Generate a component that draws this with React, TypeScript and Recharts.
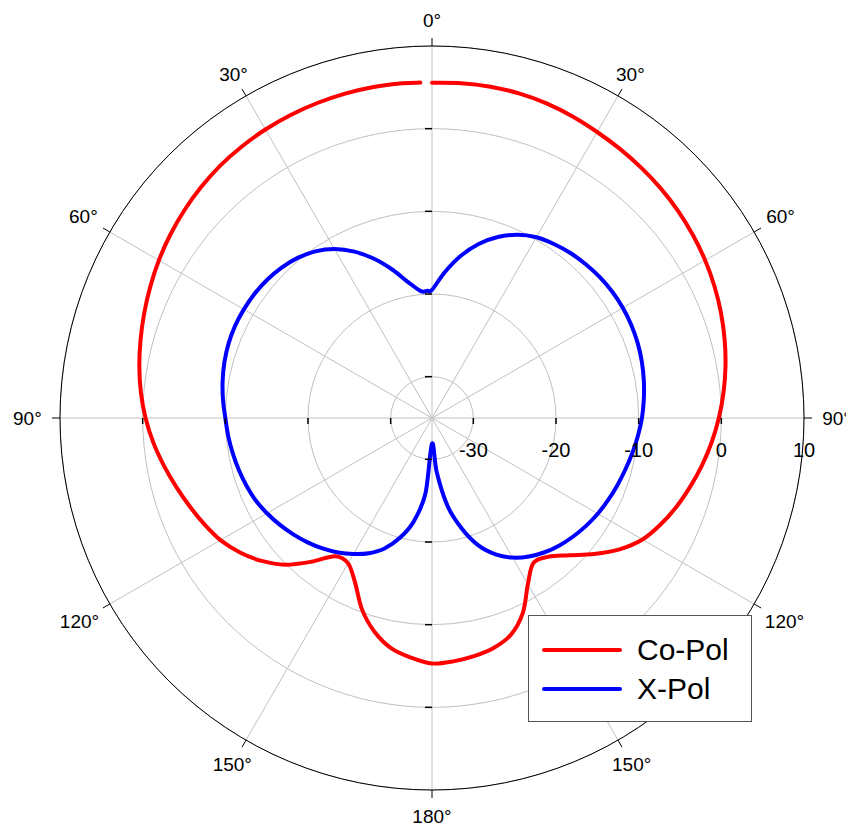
import React from 'react';
import { RadarChart, Radar, PolarGrid, PolarAngleAxis, PolarRadiusAxis, Legend } from 'recharts';

// measurement angles (deg, clockwise from boresight)
const angles = [
  0, 5, 10, 15, 20, 25, 30, 35, 40, 45, 50, 55, 60, 65, 70, 75, 80, 85,
  90, 95, 100, 105, 110, 115, 120, 125, 130, 135, 140, 145, 150, 155, 160, 165, 170, 175,
  180, 185, 190, 195, 200, 205, 210, 215, 220, 225, 230, 235, 240, 245, 250, 255, 260, 265,
  270, 275, 280, 285, 290, 295, 300, 305, 310, 315, 320, 325, 330, 335, 340, 345, 350, 355, 358,
];

// co-polar gain (dB)
const coPol = [
  5.55, 5.65, 5.7, 5.65, 5.5, 5.25, 4.95, 4.7, 4.45, 4.2, 3.9, 3.55, 3.15, 2.7, 2.2, 1.65, 1.05, 0.4,
  -0.3, -1.05, -1.85, -2.7, -3.55, -4.5, -5.6, -7.3, -9.4, -11.5, -13.1, -13.6, -11.8, -9.0, -7.1, -6.2, -5.75, -5.45,
  -5.3, -5.9, -6.7, -8.2, -10.3, -13.0, -14.7, -14.6, -12.3, -9.9, -8.1, -6.65, -5.45, -4.6, -3.8, -2.95, -2.05, -1.15,
  -0.35, 0.35, 0.95, 1.5, 2.05, 2.6, 3.15, 3.65, 4.1, 4.5, 4.85, 5.1, 5.3, 5.45, 5.55, 5.62, 5.66, 5.65, 5.6,
];

// cross-polar gain (dB)
const xPol = [
  -19.5, -17.3, -15.1, -13.2, -11.7, -10.55, -9.75, -9.3, -8.95, -8.7, -8.5, -8.38, -8.35, -8.4, -8.52, -8.72, -8.98, -9.28,
  -9.6, -10.0, -10.4, -10.8, -11.15, -11.5, -11.85, -12.25, -12.7, -13.2, -13.8, -14.55, -15.5, -16.8, -18.6, -21.2, -24.2, -28.4,
  -31.9, -25.8, -22.3, -20.0, -18.2, -16.95, -16.0, -15.15, -14.4, -13.72, -13.1, -12.5, -11.95, -11.45, -11.1, -10.8, -10.52, -10.25,
  -10.0, -9.62, -9.28, -9.0, -8.8, -8.7, -8.72, -8.8, -8.98, -9.28, -9.72, -10.4, -11.4, -12.8, -14.5, -16.4, -18.3, -19.6, -19.6,
];

const angleTicks = [0, 30, 60, 90, 120, 150, 180, 210, 240, 270, 300, 330];
const radiusTicks = [-30, -20, -10, 0, 10];
const legendOrder = ['Co-Pol', 'X-Pol'];

const data = angles.map((angle, i) => ({ angle, co: coPol[i], x: xPol[i] }));

const FONT = "'Liberation Sans', Arial, sans-serif";

type Pt = { x: number; y: number };

// catmull-rom through the radar points, optionally closed
const smoothPath = (pts: Pt[], closed: boolean) => {
  const n = pts.length;
  if (n < 2) return '';
  const get = (i: number) => (closed ? pts[(i + n) % n] : pts[Math.max(0, Math.min(n - 1, i))]);
  let d = `M${pts[0].x},${pts[0].y}`;
  const segs = closed ? n : n - 1;
  for (let i = 0; i < segs; i++) {
    const p0 = get(i - 1);
    const p1 = get(i);
    const p2 = get(i + 1);
    const p3 = get(i + 2);
    const c1x = p1.x + (p2.x - p0.x) / 6;
    const c1y = p1.y + (p2.y - p0.y) / 6;
    const c2x = p2.x - (p3.x - p1.x) / 6;
    const c2y = p2.y - (p3.y - p1.y) / 6;
    d += ` C${c1x},${c1y} ${c2x},${c2y} ${p2.x},${p2.y}`;
  }
  return closed ? d + 'Z' : d;
};

const curve = (color: string, closed: boolean) => (props: any) => (
  <path
    d={smoothPath(props.points || [], closed)}
    fill="none"
    stroke={color}
    strokeWidth={4}
    strokeLinejoin="round"
    strokeLinecap="round"
  />
);

const AngleTick = (props: any) => {
  const { x, y, payload } = props;
  const deg = Number(payload.value) % 360;
  const label = `${deg <= 180 ? deg : 360 - deg}°`;
  const rad = (deg * Math.PI) / 180;
  const dx = Math.sin(rad);
  const dy = -Math.cos(rad);
  const push = 9 + Math.max(Math.abs(dx) * label.length * 5.2, Math.abs(dy) * 9);
  return (
    <text
      x={x + dx * push}
      y={y + dy * push}
      dy="0.35em"
      textAnchor="middle"
      fontFamily={FONT}
      fontSize={19}
      fill="#000"
    >
      {label}
    </text>
  );
};

const RadiusTick = (props: any) => {
  const { x, y, payload } = props;
  const r = payload.coordinate;
  const cx = x - r;
  const cy = y;
  const v = payload.value;
  return (
    <g>
      {v < 10 && (
        <g stroke="#000" strokeWidth={1.5}>
          <line x1={cx + r} y1={cy} x2={cx + r} y2={cy + 6} />
          <line x1={cx - r} y1={cy} x2={cx - r} y2={cy + 6} />
          <line x1={cx - 7} y1={cy - r} x2={cx} y2={cy - r} />
          <line x1={cx - 7} y1={cy + r} x2={cx} y2={cy + r} />
        </g>
      )}
      <text x={x} y={y + 32} dy="0.35em" textAnchor="middle" fontFamily={FONT} fontSize={20} fill="#000">
        {v}
      </text>
    </g>
  );
};

const renderLegend = (props: any) => {
  const items = [...(props.payload || [])].sort(
    (a: any, b: any) => legendOrder.indexOf(a.value) - legendOrder.indexOf(b.value)
  );
  return (
    <div
      style={{
        width: 224,
        height: 107,
        boxSizing: 'border-box',
        border: '1px solid #555',
        background: '#fff',
        position: 'relative',
      }}
    >
      {items.map((item: any, i: number) => (
        <div
          key={item.value}
          style={{ position: 'absolute', left: 13, top: 14 + i * 39, height: 40, display: 'flex', alignItems: 'center' }}
        >
          <svg width={80} height={6} style={{ display: 'block' }}>
            <line x1={2} y1={3} x2={78} y2={3} stroke={item.color} strokeWidth={4} strokeLinecap="round" />
          </svg>
          <span style={{ marginLeft: 15, fontFamily: FONT, fontSize: 30, color: '#000', lineHeight: '40px' }}>
            {item.value}
          </span>
        </div>
      ))}
    </div>
  );
};

export default function App() {
  // negative margin cancels the body margin so the plot can use the full 854px width
  return (
    <div style={{ width: 854, height: 833, margin: -8, background: '#fff' }}>
      <RadarChart
        width={854}
        height={833}
        data={data}
        cx={432}
        cy={418}
        outerRadius={372}
        startAngle={90}
        endAngle={-270}
        margin={{ top: 0, right: 0, bottom: 0, left: 0 }}
      >
        <PolarGrid
          gridType="circle"
          polarAngles={angleTicks}
          stroke="#c0c0c0"
          strokeWidth={1}
        />
        <PolarAngleAxis
          dataKey="angle"
          type="number"
          domain={[0, 360]}
          ticks={angleTicks}
          axisLineType="circle"
          stroke="#000"
          tickSize={8}
          tick={AngleTick}
        />
        <PolarRadiusAxis
          angle={0}
          type="number"
          domain={[-35, 10]}
          ticks={radiusTicks}
          axisLine={false}
          tick={RadiusTick}
        />
        <Radar
          name="X-Pol"
          dataKey="x"
          stroke="#0000ff"
          fill="none"
          dot={false}
          isAnimationActive={false}
          shape={curve('#0000ff', true)}
        />
        <Radar
          name="Co-Pol"
          dataKey="co"
          stroke="#ff0000"
          fill="none"
          dot={false}
          isAnimationActive={false}
          shape={curve('#ff0000', false)}
        />
        <Legend
          content={renderLegend}
          wrapperStyle={{ position: 'absolute', left: 528, top: 615, width: 224, height: 107 }}
        />
      </RadarChart>
    </div>
  );
}
